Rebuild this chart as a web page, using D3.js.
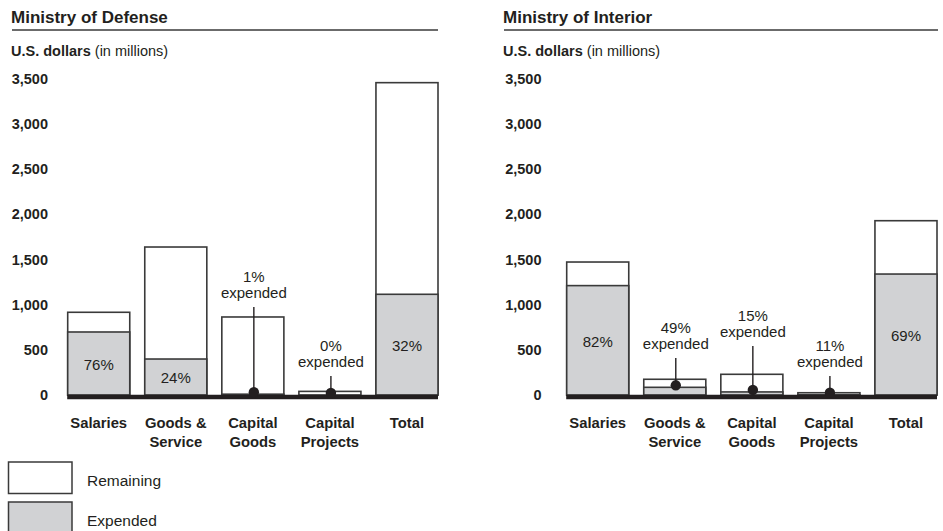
<!DOCTYPE html>
<html>
<head>
<meta charset="utf-8">
<script src="https://cdn.jsdelivr.net/npm/d3@7"></script>
<style>
  body { margin: 0; background: #fff; }
  svg text { font-family: "Liberation Sans", Arial, Helvetica, sans-serif; fill: #231f20; }
</style>
</head>
<body>
<svg id="chart" width="943" height="531"></svg>
<script>
// categories and values (U.S. dollars, millions)
var categories = ["Salaries", "Goods & Service", "Capital Goods", "Capital Projects", "Total"];
var categoryLines = [["Salaries"], ["Goods &", "Service"], ["Capital", "Goods"], ["Capital", "Projects"], ["Total"]];

var defenseBudget   = [915, 1637, 863, 40, 3455];
var defenseExpended = [697, 398, 9, 0, 1114];
var defensePct      = ["76%", "24%", "1%", "0%", "32%"];

var interiorBudget   = [1471, 174, 229, 25, 1928];
var interiorExpended = [1210, 85, 34, 3, 1338];
var interiorPct      = ["82%", "49%", "15%", "11%", "69%"];

var yTicks = [0, 500, 1000, 1500, 2000, 2500, 3000, 3500];

// which bars use an outside callout instead of an inside label
var defenseCallout  = [false, false, true, true, false];
var interiorCallout = [false, true, true, true, false];

d3.select(window).on('load', init);

function init() {
    var svg = d3.select('#chart');

    var y = d3.scaleLinear()
        .domain([0, 3500])
        .range([395, 78.6]);

    // layout: callout line height above the baseline (px)
    var defenseLift  = [0, 0, 88, 19, 0];
    var interiorLift = [0, 37, 49, 19, 0];

    drawPanel(svg, {
        title: "Ministry of Defense",
        left: 11, ruleEnd: 438, axisX: 48,
        x0: 67.7, x1: 438,
        budget: defenseBudget, expended: defenseExpended, pct: defensePct,
        callout: defenseCallout, lift: defenseLift
    }, y);

    drawPanel(svg, {
        title: "Ministry of Interior",
        left: 503, ruleEnd: 938, axisX: 541.5,
        x0: 566.7, x1: 937,
        budget: interiorBudget, expended: interiorExpended, pct: interiorPct,
        callout: interiorCallout, lift: interiorLift
    }, y);

    // legend
    var legend = svg.append("g");
    var items = [{label: "Remaining", fill: "#fff", y: 462}, {label: "Expended", fill: "#d1d2d4", y: 502}];
    legend.selectAll("rect")
        .data(items)
        .enter()
        .append("rect")
        .attr("x", 8.5)
        .attr("y", function(d){ return d.y; })
        .attr("width", 63.5)
        .attr("height", 31.5)
        .attr("fill", function(d){ return d.fill; })
        .attr("stroke", "#3a3a3a")
        .attr("stroke-width", 1.5);
    legend.selectAll("text")
        .data(items)
        .enter()
        .append("text")
        .attr("x", 87)
        .attr("y", function(d){ return d.y + 18.5; })
        .attr("dy", "0.35em")
        .style("font-size", "15.5px")
        .text(function(d){ return d.label; });
}

function drawPanel(svg, p, y) {
    var g = svg.append("g");

    var x = d3.scaleBand()
        .domain(categories)
        .range([p.x0, p.x1])
        .paddingInner(15 / 77)
        .paddingOuter(0);

    // title + rule
    g.append("text")
        .attr("x", p.left)
        .attr("y", 23)
        .style("font-size", "17px")
        .style("font-weight", "bold")
        .text(p.title);
    g.append("line")
        .attr("x1", p.left + 1).attr("x2", p.ruleEnd)
        .attr("y1", 30).attr("y2", 30)
        .attr("stroke", "#3a3a3a")
        .attr("stroke-width", 1.5);

    // unit label
    var unit = g.append("text")
        .attr("x", p.left)
        .attr("y", 56)
        .style("font-size", "14.5px");
    unit.append("tspan").style("font-weight", "bold").text("U.S. dollars");
    unit.append("tspan").text(" (in millions)");

    // y axis (labels only)
    var axis = g.append("g")
        .attr("transform", "translate(" + p.axisX + ",0)")
        .call(d3.axisLeft(y).tickValues(yTicks).tickSize(0).tickPadding(0).tickFormat(d3.format(",")));
    axis.select(".domain").remove();
    axis.selectAll("text")
        .style("font-size", "14.5px")
        .style("font-weight", "bold")
        .style("font-family", "'Liberation Sans', Arial, sans-serif")
        .attr("fill", "#231f20");

    var rows = categories.map(function(c, i) {
        return {cat: c, budget: p.budget[i], exp: p.expended[i], pct: p.pct[i],
                callout: p.callout[i], lift: p.lift[i], lines: categoryLines[i]};
    });

    // budget (remaining) bars
    g.selectAll("rect.budget")
        .data(rows)
        .enter()
        .append("rect")
        .attr("class", "budget")
        .attr("x", function(d){ return x(d.cat); })
        .attr("y", function(d){ return y(d.budget); })
        .attr("width", x.bandwidth())
        .attr("height", function(d){ return y(0) - y(d.budget); })
        .attr("fill", "#fff")
        .attr("stroke", "#3a3a3a")
        .attr("stroke-width", 1.6);

    // expended portion
    g.selectAll("rect.exp")
        .data(rows)
        .enter()
        .append("rect")
        .attr("class", "exp")
        .attr("x", function(d){ return x(d.cat); })
        .attr("y", function(d){ return y(d.exp); })
        .attr("width", x.bandwidth())
        .attr("height", function(d){ return y(0) - y(d.exp); })
        .attr("fill", "#d1d2d4")
        .attr("stroke", "#3a3a3a")
        .attr("stroke-width", 1.6);

    // baseline
    g.append("line")
        .attr("x1", p.x0 - 0.5).attr("x2", p.x1)
        .attr("y1", y(0) + 2).attr("y2", y(0) + 2)
        .attr("stroke", "#231f20")
        .attr("stroke-width", 4.5);

    // inside percent labels
    g.selectAll("text.inpct")
        .data(rows.filter(function(d){ return !d.callout; }))
        .enter()
        .append("text")
        .attr("class", "inpct")
        .attr("x", function(d){ return x(d.cat) + x.bandwidth() / 2; })
        .attr("y", function(d){ return (y(d.exp) + y(0)) / 2 + 1; })
        .attr("dy", "0.35em")
        .attr("text-anchor", "middle")
        .style("font-size", "15px")
        .text(function(d){ return d.pct; });

    // callouts
    var co = g.selectAll("g.callout")
        .data(rows.filter(function(d){ return d.callout; }))
        .enter()
        .append("g")
        .attr("class", "callout")
        .attr("transform", function(d){ return "translate(" + (x(d.cat) + x.bandwidth() / 2 + 1) + ",0)"; });
    co.append("line")
        .attr("y1", function(d){ return y(0) - d.lift; })
        .attr("y2", function(d){ return Math.min(y(d.exp), y(0)) - 2; })
        .attr("stroke", "#231f20")
        .attr("stroke-width", 1.4);
    co.append("circle")
        .attr("cy", function(d){ return Math.min(y(d.exp), y(0)) - 2; })
        .attr("r", 5.2)
        .attr("fill", "#231f20");
    co.append("text")
        .attr("y", function(d){ return y(0) - d.lift - 14; })
        .attr("dy", "0.35em")
        .attr("text-anchor", "middle")
        .style("font-size", "15px")
        .text("expended");
    co.append("text")
        .attr("y", function(d){ return y(0) - d.lift - 30; })
        .attr("dy", "0.35em")
        .attr("text-anchor", "middle")
        .style("font-size", "15px")
        .text(function(d){ return d.pct; });

    // category labels
    var cl = g.selectAll("text.cat")
        .data(rows)
        .enter()
        .append("text")
        .attr("class", "cat")
        .attr("x", function(d){ return x(d.cat) + x.bandwidth() / 2; })
        .attr("y", 423)
        .attr("text-anchor", "middle")
        .style("font-size", "14.8px")
        .style("font-weight", "bold");
    cl.selectAll("tspan")
        .data(function(d){ return d.lines; })
        .enter()
        .append("tspan")
        .attr("x", function(){ var t = d3.select(this.parentNode); return t.attr("x"); })
        .attr("dy", function(d, i){ return i === 0 ? "0.35em" : "19px"; })
        .text(function(d){ return d; });
}
</script>
</body>
</html>
